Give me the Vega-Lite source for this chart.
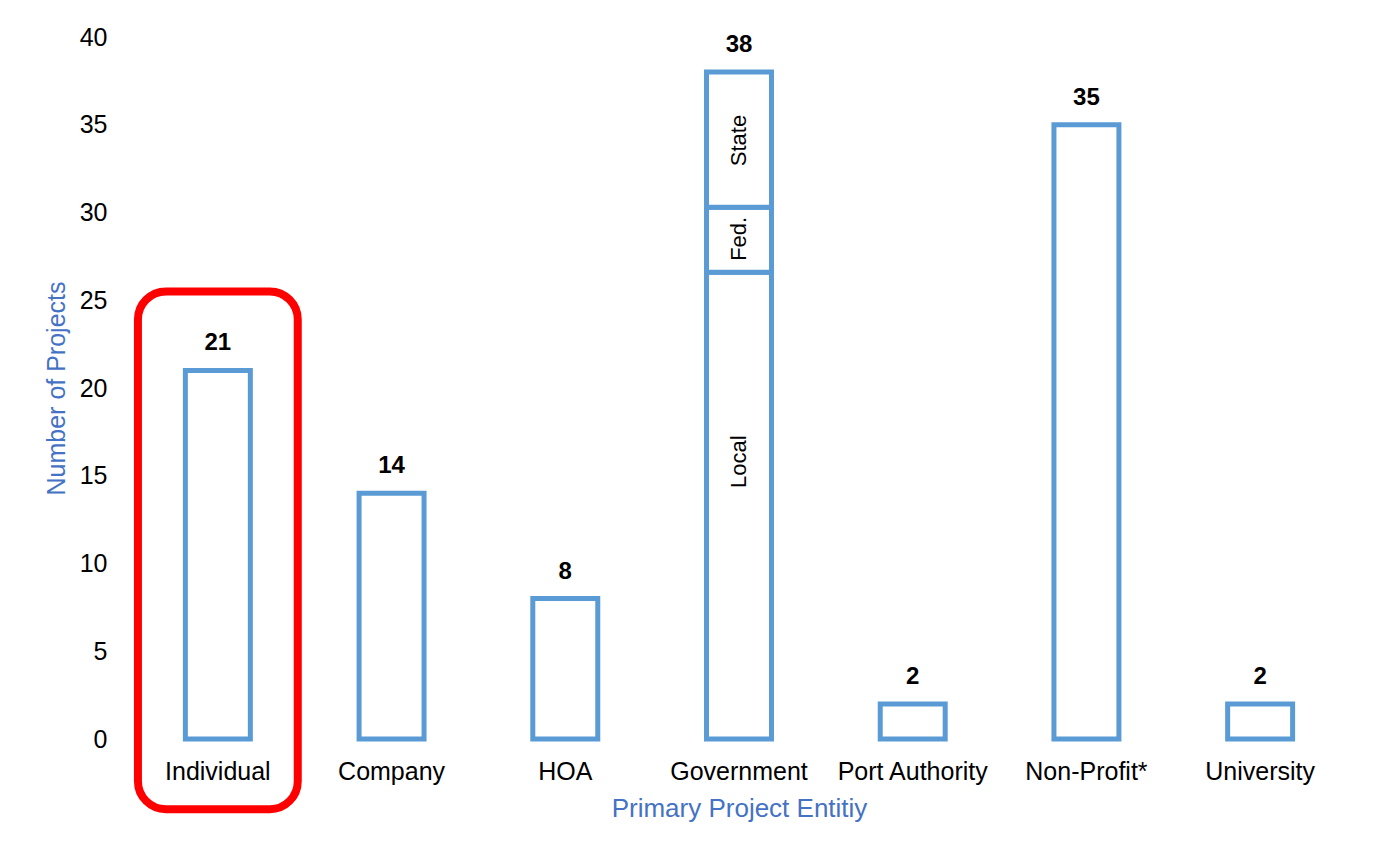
{
  "$schema": "https://vega.github.io/schema/vega-lite/v6.json",
  "width": 1216,
  "height": 702,
  "autosize": {"type": "none"},
  "padding": {"left": 131, "top": 37, "right": 33, "bottom": 122},
  "background": "white",
  "config": {
    "view": {"stroke": null},
    "font": "Liberation Sans",
    "axis": {"grid": false, "domain": false, "ticks": false},
    "axisY": {
      "labelFontSize": 25, "labelColor": "#000000",
      "labelPadding": 24, "titleFontSize": 25, "titleColor": "#4472C4", "titleFontWeight": "normal", "titlePadding": 10
    }
  },
  "datasets": {
    "bars": [
      {"entity": "Individual", "part": "All", "rank": 1, "value": 21},
      {"entity": "Company", "part": "All", "rank": 1, "value": 14},
      {"entity": "HOA", "part": "All", "rank": 1, "value": 8},
      {"entity": "Government", "part": "Local", "rank": 1, "value": 26.6},
      {"entity": "Government", "part": "Fed.", "rank": 2, "value": 3.7},
      {"entity": "Government", "part": "State", "rank": 3, "value": 7.7},
      {"entity": "Port Authority", "part": "All", "rank": 1, "value": 2},
      {"entity": "Non-Profit*", "part": "All", "rank": 1, "value": 35},
      {"entity": "University", "part": "All", "rank": 1, "value": 2}
    ],
    "totals": [
      {"entity": "Individual", "total": 21},
      {"entity": "Company", "total": 14},
      {"entity": "HOA", "total": 8},
      {"entity": "Government", "total": 38},
      {"entity": "Port Authority", "total": 2},
      {"entity": "Non-Profit*", "total": 35},
      {"entity": "University", "total": 2}
    ],
    "parts": [
      {"entity": "Government", "part": "Local", "at": 15.8},
      {"entity": "Government", "part": "Fed.", "at": 28.5},
      {"entity": "Government", "part": "State", "at": 34.1}
    ],
    "highlight": [
      {"entity": "Individual", "top": 25.5, "bottom": -4}
    ]
  },
  "layer": [
    {
      "data": {"name": "bars"},
      "mark": {"type": "bar", "fill": "white", "stroke": "#5B9BD5", "strokeWidth": 5},
      "encoding": {
        "x": {
          "field": "entity", "type": "nominal",
          "sort": ["Individual", "Company", "HOA", "Government", "Port Authority", "Non-Profit*", "University"],
          "scale": {"paddingInner": 0.626, "paddingOuter": 0.313},
          "axis": {
            "title": "Primary Project Entitiy", "labelAngle": 0, "labelFontSize": 25, "labelColor": "#000000",
            "labelPadding": 20, "titleFontSize": 26, "titleColor": "#4472C4", "titleFontWeight": "normal", "titlePadding": 11
          }
        },
        "y": {
          "field": "value", "type": "quantitative", "stack": "zero",
          "scale": {"domain": [0, 40], "nice": false},
          "title": "Number of Projects",
          "axis": {"values": [0, 5, 10, 15, 20, 25, 30, 35, 40]}
        },
        "detail": {"field": "part"},
        "order": {"field": "rank", "type": "quantitative"}
      }
    },
    {
      "data": {"name": "totals"},
      "mark": {"type": "text", "fontSize": 24, "fontWeight": "bold", "color": "#000000", "baseline": "middle", "dy": -27},
      "encoding": {
        "x": {"field": "entity", "type": "nominal", "sort": ["Individual", "Company", "HOA", "Government", "Port Authority", "Non-Profit*", "University"]},
        "y": {"field": "total", "type": "quantitative", "title": "Number of Projects", "axis": {"values": [0, 5, 10, 15, 20, 25, 30, 35, 40]}},
        "text": {"field": "total"}
      }
    },
    {
      "data": {"name": "parts"},
      "mark": {"type": "text", "fontSize": 22, "angle": 270, "color": "#000000", "baseline": "middle", "align": "center"},
      "encoding": {
        "x": {"field": "entity", "type": "nominal", "sort": ["Individual", "Company", "HOA", "Government", "Port Authority", "Non-Profit*", "University"]},
        "y": {"field": "at", "type": "quantitative", "title": "Number of Projects", "axis": {"values": [0, 5, 10, 15, 20, 25, 30, 35, 40]}},
        "text": {"field": "part"}
      }
    },
    {
      "data": {"name": "highlight"},
      "mark": {"type": "bar", "width": {"band": 2.46}, "fillOpacity": 0, "fill": "white", "stroke": "#FF0000", "strokeWidth": 8, "cornerRadius": 28},
      "encoding": {
        "x": {"field": "entity", "type": "nominal", "sort": ["Individual", "Company", "HOA", "Government", "Port Authority", "Non-Profit*", "University"]},
        "y": {"field": "top", "type": "quantitative", "title": "Number of Projects", "axis": {"values": [0, 5, 10, 15, 20, 25, 30, 35, 40]}},
        "y2": {"field": "bottom"}
      }
    }
  ]
}
